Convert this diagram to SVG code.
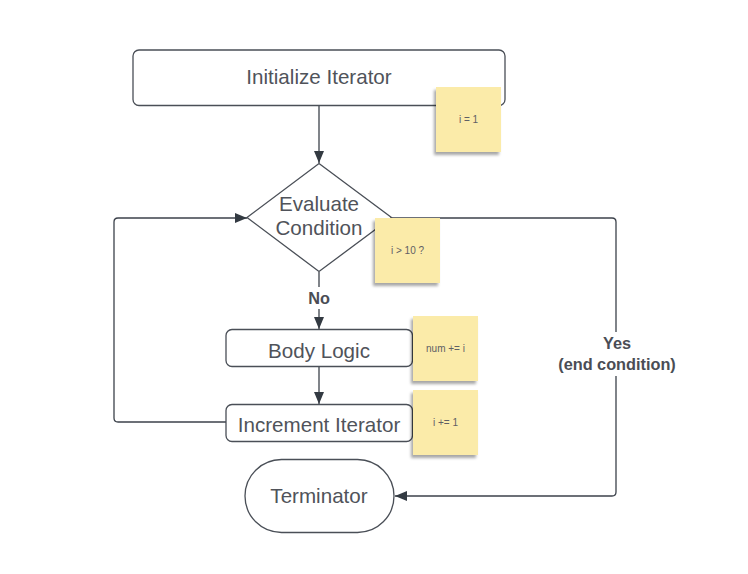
<svg xmlns="http://www.w3.org/2000/svg" width="748" height="574" viewBox="0 0 748 574">
<style>
.node{fill:#fff;stroke:#4a4f57;stroke-width:1.3}
.lbl{font-family:"Liberation Sans",Arial,sans-serif;font-size:20.6px;fill:#50535a;text-anchor:middle;dominant-baseline:central}
.sticky{fill:#fbeba9}
.stxt{font-family:"Liberation Sans",Arial,sans-serif;font-size:10px;fill:#5f6065;text-anchor:middle;dominant-baseline:central}
.conn{fill:none;stroke:#3c424b;stroke-width:1.3;stroke-linejoin:round}
.clbl{font-family:"Liberation Sans",Arial,sans-serif;font-size:16.3px;font-weight:bold;fill:#4a4d55;text-anchor:middle;dominant-baseline:central}
</style>
<defs>
<marker id="arr" viewBox="0 0 12 10" refX="12" refY="5" markerWidth="12" markerHeight="10" markerUnits="userSpaceOnUse" orient="auto">
<path d="M0,0 L12,5 L0,10 z" fill="#333a42"/>
</marker>
<filter id="sh" x="-20%" y="-20%" width="150%" height="150%">
<feGaussianBlur in="SourceAlpha" stdDeviation="1.6"/>
<feOffset dx="-2" dy="2.5" result="b"/>
<feComponentTransfer><feFuncA type="linear" slope="0.35"/></feComponentTransfer>
<feMerge><feMergeNode/><feMergeNode in="SourceGraphic"/></feMerge>
</filter>
</defs>
<rect width="748" height="574" fill="#fff"/>
<g id="connectors">
<path class="conn" d="M319,106 L319,163" marker-end="url(#arr)"/>
<path class="conn" d="M319,272 L319,329" marker-end="url(#arr)"/>
<path class="conn" d="M319,367 L319,404" marker-end="url(#arr)"/>
<path class="conn" d="M226,422 L118,422 Q114,422 114,418 L114,222 Q114,218 118,218 L247,218" marker-end="url(#arr)"/>
<path class="conn" d="M391,218 L612,218 Q616,218 616,222 L616,492 Q616,496 612,496 L395,496" marker-end="url(#arr)"/>
<rect x="296" y="287" width="46" height="22" fill="#fff"/>
<text class="clbl" x="319" y="298">No</text>
<rect x="553" y="332" width="128" height="44" fill="#fff"/>
<text class="clbl" x="617" y="343">Yes</text>
<text class="clbl" x="617" y="364">(end condition)</text>
</g>
<g id="init">
<rect class="node" x="133" y="50" width="372" height="55.5" rx="6"/>
<text class="lbl" x="319" y="76">Initialize Iterator</text>
</g>
<g id="eval">
<path class="node" d="M319,163.5 L391.5,217.5 L319,271.5 L247,217.5 Z"/>
<text class="lbl" x="319" y="203">Evaluate</text>
<text class="lbl" x="319" y="227">Condition</text>
</g>
<g id="body">
<rect class="node" x="226" y="329.5" width="186.5" height="37" rx="6"/>
<text class="lbl" x="319" y="350">Body Logic</text>
</g>
<g id="incr">
<rect class="node" x="226" y="404.5" width="186.5" height="37" rx="6"/>
<text class="lbl" x="319" y="424">Increment Iterator</text>
</g>
<g id="term">
<rect class="node" x="245" y="459.5" width="149" height="73" rx="36.5"/>
<text class="lbl" x="319" y="495">Terminator</text>
</g>
<g id="note1">
<rect class="sticky" filter="url(#sh)" x="436" y="87" width="65" height="65"/>
<text class="stxt" x="468.5" y="119.5">i = 1</text>
</g>
<g id="note2">
<rect class="sticky" filter="url(#sh)" x="375" y="218" width="65" height="65"/>
<text class="stxt" x="407.5" y="250">i &gt; 10 ?</text>
</g>
<g id="note3">
<rect class="sticky" filter="url(#sh)" x="413" y="316" width="65" height="65"/>
<text class="stxt" x="445.5" y="348">num += i</text>
</g>
<g id="note4">
<rect class="sticky" filter="url(#sh)" x="413" y="390" width="65" height="65"/>
<text class="stxt" x="445.5" y="422">i += 1</text>
</g>
</svg>
